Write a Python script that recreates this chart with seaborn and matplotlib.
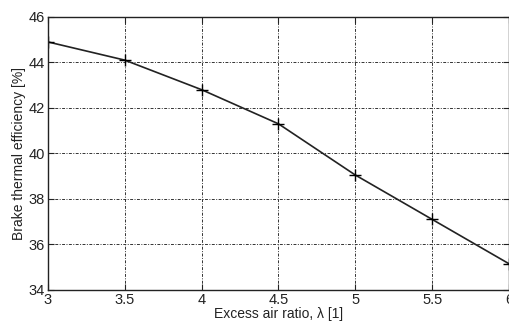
import matplotlib
matplotlib.use('Agg')
import matplotlib.pyplot as plt
import seaborn as sns
import pandas as pd

excess_air = [3.0, 3.5, 4.0, 4.5, 5.0, 5.5, 6.0]
efficiency = [44.9, 44.1, 42.8, 41.3, 39.05, 37.1, 35.15]

df = pd.DataFrame({'lambda': excess_air, 'eff': efficiency})

sns.set_style('white')
plt.rcParams['font.family'] = ['Liberation Sans', 'DejaVu Sans']

fig, ax = plt.subplots(figsize=(5.1, 3.25), dpi=100)
fig.subplots_adjust(left=0.094, right=0.998, top=0.948, bottom=0.108)

sns.lineplot(data=df, x='lambda', y='eff', ax=ax, color='#222222', lw=1.2,
             marker='+', markersize=8, markeredgewidth=1.0, markeredgecolor='black')

ax.set_xlim(3, 6)
ax.set_ylim(34, 46)
ax.set_xticks([3, 3.5, 4, 4.5, 5, 5.5, 6])
ax.set_xticklabels(['3', '3.5', '4', '4.5', '5', '5.5', '6'])
ax.set_yticks(range(34, 47, 2))
ax.grid(True, color='#333333', linestyle=(0, (3, 1.5, 1, 1.5)), linewidth=0.7)
ax.tick_params(direction='in', length=4, width=0.8, labelsize=10.5, pad=2,
               top=True, right=True, bottom=True, left=True, colors='#222222')
for s in ax.spines.values():
    s.set_color('#222222')
    s.set_linewidth(1.0)

ax.set_xlabel('Excess air ratio, λ [1]', fontsize=10, labelpad=0, color='#222222')
ax.set_ylabel('Brake thermal efficiency [%]', fontsize=10, labelpad=2, color='#222222')

fig.savefig('out.png', dpi=100)
